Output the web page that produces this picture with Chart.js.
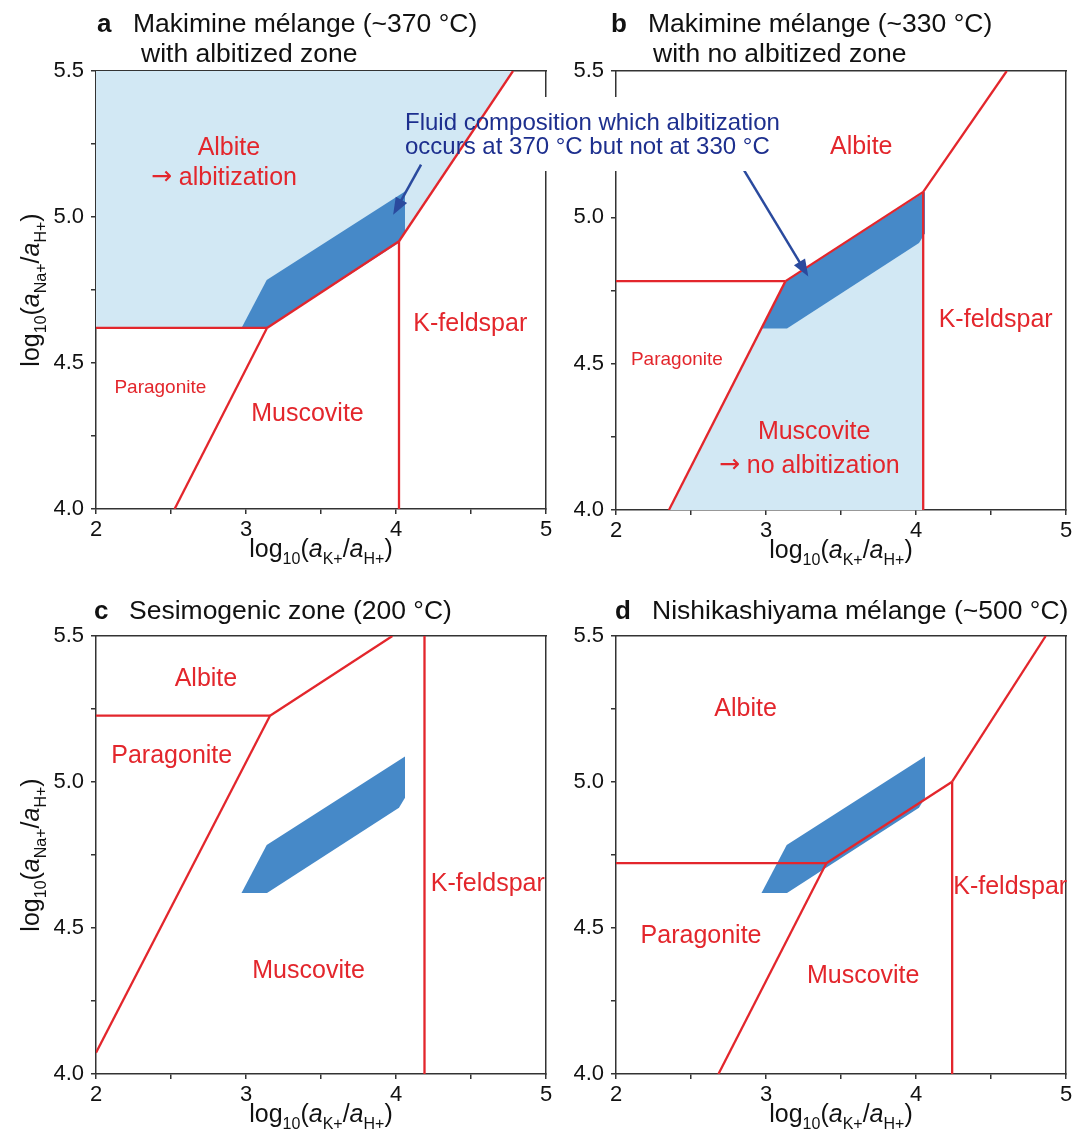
<!DOCTYPE html>
<html><head><meta charset="utf-8">
<script src="https://cdn.jsdelivr.net/npm/chart.js@4/dist/chart.umd.min.js"></script>
<style>
html,body{margin:0;padding:0;background:#fff;width:1087px;height:1139px;overflow:hidden;font-family:"Liberation Sans",Arial,Helvetica,sans-serif}
canvas{position:absolute}
#calloutBg{position:absolute;left:545px;top:97px;width:245px;height:74px;background:#fff;z-index:4}
#callout{position:absolute;left:403px;top:110px;font-size:24px;line-height:24px;color:#1d2f8e;white-space:nowrap;padding:0 2px;z-index:5}
</style></head><body>
<canvas id="ca" width="560" height="575" style="left:0;top:0"></canvas>
<canvas id="cb" width="527" height="575" style="left:560px;top:0"></canvas>
<canvas id="cc" width="560" height="564" style="left:0;top:575px"></canvas>
<canvas id="cd" width="527" height="564" style="left:560px;top:575px"></canvas>
<div id="calloutBg"></div>
<div id="callout">Fluid composition which albitization<br>occurs at 370 °C but not at 330 °C</div>
<script>
// ---------- data (x = log10(aK+/aH+), y = log10(aNa+/aH+)) ----------
const xTickLabels = [2, 3, 4, 5];
const yTickLabels = [4.0, 4.5, 5.0, 5.5];

// fluid-composition polygon (same in every panel)
const fluidPoly = [[2.97,4.62],[3.14,4.62],[4.02,4.912],[4.06,4.946],[4.06,5.087],[3.138,4.784],[2.97,4.62]];

// panel a (~370 °C)
const aAlbiteZone = [[2,4.62],[3.14,4.62],[4.02,4.917],[4.78,5.5],[2,5.5],[2,4.62]];
const aParAlb = [[2,4.62],[3.14,4.62]];
const aParMus = [[2.524,4.0],[3.14,4.62]];
const aAlbMus = [[3.14,4.62],[4.02,4.917]];
const aMusKfs = [[4.02,4.917],[4.02,4.0]];
const aAlbKfs = [[4.02,4.917],[4.78,5.5]];
const aArrow = [[4.167,5.179],[3.981,5.008]];

// panel b (~330 °C)
const bMuscoviteZone = [[2.353,4.0],[3.13,4.782],[4.048,5.087],[4.048,4.0],[2.353,4.0]];
const bParAlb = [[2,4.782],[3.13,4.782]];
const bParMus = [[2.353,4.0],[3.13,4.782]];
const bAlbMus = [[3.13,4.782],[4.048,5.087]];
const bMusKfs = [[4.048,5.087],[4.048,4.0]];
const bAlbKfs = [[4.048,5.087],[4.605,5.5]];
const bArrow = [[2.836,5.176],[3.282,4.798]];

// panel c (200 °C)
const cParAlb = [[2,5.227],[3.16,5.227]];
const cParMus = [[2,4.073],[3.16,5.227]];
const cAlbMus = [[3.16,5.227],[3.976,5.5]];
const cMusKfs = [[4.19,5.5],[4.19,4.0]];

// panel d (~500 °C)
const dParAlb = [[2,4.722],[3.402,4.722]];
const dParMus = [[2.683,4.0],[3.402,4.722]];
const dAlbMus = [[3.402,4.722],[4.241,5.001]];
const dMusKfs = [[4.241,5.001],[4.241,4.0]];
const dAlbKfs = [[4.241,5.001],[4.865,5.5]];

// region labels: [text, x, y]
const aLabels = [['Albite',2.886,5.244],['\u2192 albitization',2.853,5.142],['Paragonite',2.429,4.422],['Muscovite',3.41,4.331],['K-feldspar',4.495,4.639]];
const bLabels = [['Albite',3.635,5.247],['Paragonite',2.406,4.52],['Muscovite',3.321,4.272],['\u2192 no albitization',3.289,4.158],['K-feldspar',4.531,4.655]];
const cLabels = [['Albite',2.733,5.361],['Paragonite',2.505,5.095],['Muscovite',3.417,4.36],['K-feldspar',4.612,4.656]];
const dLabels = [['Albite',2.864,5.256],['Paragonite',2.567,4.479],['Muscovite',3.648,4.342],['K-feldspar',4.628,4.647]];

// ---------- styles ----------
const FONT = '"Liberation Sans", Arial, Helvetica, sans-serif';
const ARROWFONT = '"DejaVu Sans", sans-serif';
const RED = '#e3262c', LIGHT = '#d2e8f4', DARK = '#4689c8', NAVY = '#2a4a9e', AXIS = '#333333';

const xTitle = [{t:'log',s:25},{t:'10',s:16,dy:7},{t:'(',s:25},{t:'a',s:25,i:1},{t:'K+',s:16,dy:7},{t:'/',s:25},{t:'a',s:25,i:1},{t:'H+',s:16,dy:7},{t:')',s:25}];
const yTitle = [{t:'log',s:25},{t:'10',s:16,dy:7},{t:'(',s:25},{t:'a',s:25,i:1},{t:'Na+',s:16,dy:7},{t:'/',s:25},{t:'a',s:25,i:1},{t:'H+',s:16,dy:7},{t:')',s:25}];

function fontOf(p){ return (p.i?'italic ':'')+(p.b?'bold ':'')+p.s+'px '+(p.f||FONT); }
function drawRich(ctx, parts, x, y, align){
  let w = 0;
  for (const p of parts){ ctx.font = fontOf(p); w += ctx.measureText(p.t).width; }
  let cx = align === 'center' ? x - w/2 : x;
  ctx.textAlign = 'left'; ctx.textBaseline = 'alphabetic';
  for (const p of parts){ ctx.font = fontOf(p); ctx.fillText(p.t, cx, y + (p.dy||0)); cx += ctx.measureText(p.t).width; }
}
function labelParts(text, size){
  if (text.charAt(0) === '\u2192') return [{t:'\u2192', s:size, f:ARROWFONT, dy:-1}, {t:text.slice(1), s:size}];
  return [{t:text, s:size}];
}

const panelCfg = {};

const annot = {
  id: 'annot',
  afterDatasetsDraw(chart){
    const cfg = panelCfg[chart.canvas.id]; if (!cfg || !cfg.arrow) return;
    const ctx = chart.ctx, xs = chart.scales.x, ys = chart.scales.y;
    const [s, e] = cfg.arrow;
    const x0 = xs.getPixelForValue(s[0]), y0 = ys.getPixelForValue(s[1]);
    const x1 = xs.getPixelForValue(e[0]), y1 = ys.getPixelForValue(e[1]);
    const ang = Math.atan2(y1-y0, x1-x0), L = 17, W = 6.5;
    ctx.save();
    ctx.strokeStyle = NAVY; ctx.fillStyle = NAVY; ctx.lineWidth = 2.5;
    ctx.beginPath(); ctx.moveTo(x0,y0); ctx.lineTo(x1 - Math.cos(ang)*L*0.8, y1 - Math.sin(ang)*L*0.8); ctx.stroke();
    ctx.beginPath();
    ctx.moveTo(x1,y1);
    ctx.lineTo(x1 - Math.cos(ang)*L - Math.sin(ang)*W, y1 - Math.sin(ang)*L + Math.cos(ang)*W);
    ctx.lineTo(x1 - Math.cos(ang)*L + Math.sin(ang)*W, y1 - Math.sin(ang)*L - Math.cos(ang)*W);
    ctx.closePath(); ctx.fill();
    ctx.restore();
  },
  afterDraw(chart){
    const cfg = panelCfg[chart.canvas.id]; if (!cfg) return;
    const ctx = chart.ctx, xs = chart.scales.x, ys = chart.scales.y, ca = chart.chartArea;
    ctx.save();
    // region labels
    ctx.fillStyle = RED;
    cfg.labels.forEach((l, i) => {
      const size = cfg.labelSizes[i] || 25;
      drawRich(ctx, labelParts(l[0], size), xs.getPixelForValue(l[1]), ys.getPixelForValue(l[2]) + size*0.36, 'center');
    });
    // panel title
    ctx.fillStyle = '#111';
    drawRich(ctx, [{t:cfg.letter, s:26, b:1}], cfg.letterX, cfg.titleY, 'left');
    cfg.title.forEach((t, i) => drawRich(ctx, [{t:t, s:26.5}], cfg.titleX[i], cfg.titleY + i*30, 'left'));
    // axis titles
    drawRich(ctx, xTitle, (ca.left + ca.right)/2, ca.bottom + 48, 'center');
    if (cfg.yTitle){
      ctx.translate(39, (ca.top + ca.bottom)/2);
      ctx.rotate(-Math.PI/2);
      drawRich(ctx, yTitle, 0, 0, 'center');
    }
    ctx.restore();
  }
};

function pts(arr){ return arr.map(p => ({x:p[0], y:p[1]})); }
function lineDs(arr){ return {data:pts(arr), showLine:true, borderColor:RED, borderWidth:2.3, pointRadius:0, fill:false, order:1}; }
function fillDs(arr, color, order){ return {data:pts(arr), showLine:true, borderColor:'rgba(0,0,0,0)', borderWidth:0.01, backgroundColor:color, fill:'shape', pointRadius:0, order:order}; }

function axisFont(){ return {size:22, family:FONT}; }

function makePanel(id, lay, datasets, cfg){
  panelCfg[id] = cfg;
  new Chart(document.getElementById(id), {
    type: 'scatter',
    data: { datasets },
    plugins: [annot],
    options: {
      responsive:false, animation:false, events:[],
      layout:{ padding:{ left:0, top:lay.top, right:lay.right, bottom:0 } },
      plugins:{ legend:{display:false}, tooltip:{enabled:false} },
      scales:{
        x:{ type:'linear', position:'bottom', min:2, max:5,
            afterFit(s){ s.height = lay.xh; },
            ticks:{ stepSize:0.5, autoSkip:false, maxRotation:0, padding:3, color:'#111', font:axisFont(),
                    callback:v => xTickLabels.includes(v) ? String(v) : '' },
            grid:{ drawOnChartArea:false, drawTicks:true, tickLength:5, color:AXIS, lineWidth:1.5 },
            border:{ display:true, color:AXIS, width:1.5 } },
        y:{ type:'linear', position:'left', min:4, max:5.5,
            afterFit(s){ s.width = lay.yw; },
            ticks:{ stepSize:0.25, autoSkip:false, padding:7, color:'#111', font:axisFont(),
                    callback:v => yTickLabels.some(t => Math.abs(t - v) < 1e-6) ? Number(v).toFixed(1) : '' },
            grid:{ drawOnChartArea:false, drawTicks:true, tickLength:5, color:AXIS, lineWidth:1.5 },
            border:{ display:true, color:AXIS, width:1.5 } },
        x2:{ type:'linear', position:'top', min:2, max:5,
             afterFit(s){ s.height = 0; },
             ticks:{ display:false }, grid:{ drawOnChartArea:false, drawTicks:false },
             border:{ display:true, color:AXIS, width:1.5 } },
        y2:{ type:'linear', position:'right', min:4, max:5.5,
             afterFit(s){ s.width = 0; },
             ticks:{ display:false }, grid:{ drawOnChartArea:false, drawTicks:false },
             border:{ display:true, color:AXIS, width:1.5 } }
      }
    }
  });
}

makePanel('ca', {top:71, right:14, xh:66, yw:96},
  [fillDs(aAlbiteZone, LIGHT, 3), fillDs(fluidPoly, DARK, 2),
   lineDs(aParAlb), lineDs(aParMus), lineDs(aAlbMus), lineDs(aMusKfs), lineDs(aAlbKfs)],
  {labels:aLabels, labelSizes:[25,25,19,25,25], letter:'a', letterX:97, title:['Makimine m\u00e9lange (~370 \u00b0C)','with albitized zone'], titleX:[133,141], titleY:32, yTitle:true, arrow:aArrow});

makePanel('cb', {top:71, right:21, xh:65, yw:56},
  [fillDs(bMuscoviteZone, LIGHT, 3), fillDs(fluidPoly, DARK, 2),
   lineDs(bParAlb), lineDs(bParMus), lineDs(bAlbMus), lineDs(bMusKfs), lineDs(bAlbKfs)],
  {labels:bLabels, labelSizes:[25,19,25,25,25], letter:'b', letterX:51, title:['Makimine m\u00e9lange (~330 \u00b0C)','with no albitized zone'], titleX:[88,93], titleY:32, yTitle:false, arrow:bArrow});

makePanel('cc', {top:61, right:14, xh:65, yw:96},
  [fillDs(fluidPoly, DARK, 2), lineDs(cParAlb), lineDs(cParMus), lineDs(cAlbMus), lineDs(cMusKfs)],
  {labels:cLabels, labelSizes:[25,25,25,25], letter:'c', letterX:94, title:['Sesimogenic zone (200 \u00b0C)'], titleX:[129], titleY:44, yTitle:true});

makePanel('cd', {top:61, right:21, xh:65, yw:56},
  [fillDs(fluidPoly, DARK, 2), lineDs(dParAlb), lineDs(dParMus), lineDs(dAlbMus), lineDs(dMusKfs), lineDs(dAlbKfs)],
  {labels:dLabels, labelSizes:[25,25,25,25], letter:'d', letterX:55, title:['Nishikashiyama m\u00e9lange (~500 \u00b0C)'], titleX:[92], titleY:44, yTitle:false});
</script>
</body></html>
